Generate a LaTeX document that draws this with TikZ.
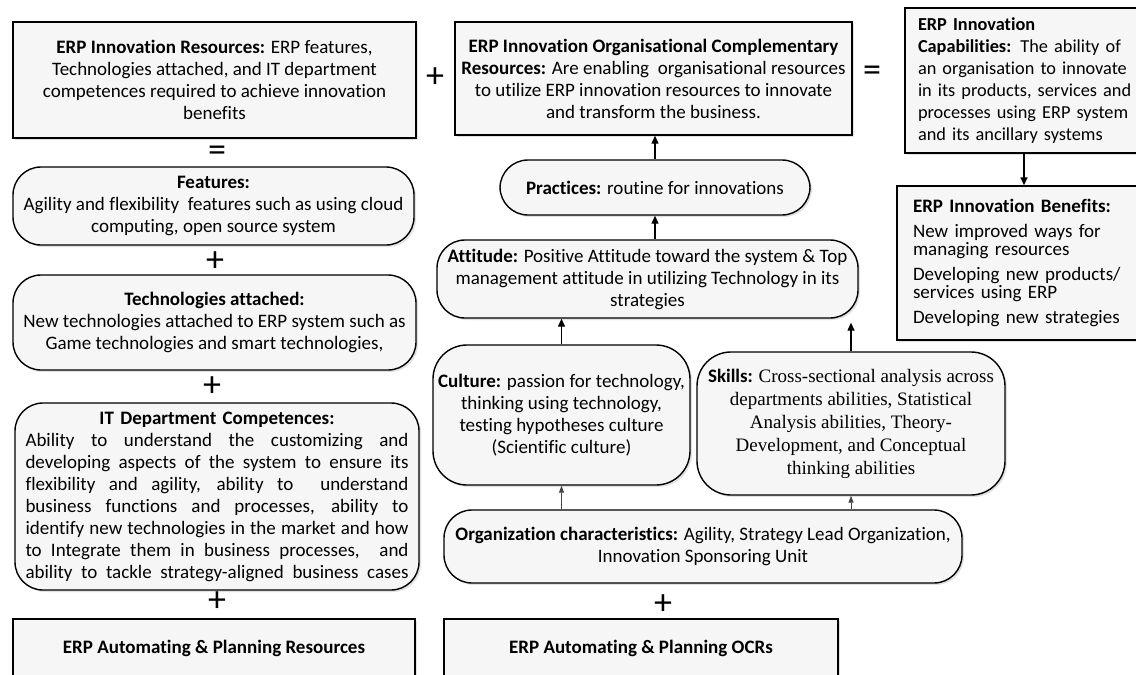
\documentclass[tikz,border=0pt]{standalone}
\usepackage{fontspec}
\setmainfont[Ligatures=NoCommon]{Carlito}
\newfontfamily\skillfont{Liberation Serif}
\usetikzlibrary{arrows.meta,shadows}
\newcommand\itline[1]{\makebox[383pt][s]{\spaceskip=.25em plus 1fil\relax #1}}

\begin{document}
\begin{tikzpicture}[x=1pt,y=-1pt,
  box/.style={draw,line width=1.4pt,fill=gray!7,drop shadow={fill=gray!45,shadow xshift=2pt,shadow yshift=-2pt},
    font=\fontsize{19}{22}\selectfont,align=center,inner sep=0pt},
  sqbox/.style={box,rectangle},
  rbox/.style={box,rounded corners=28pt},
  sign/.style={font=\fontsize{36}{36}\selectfont,inner sep=0pt},
  arr/.style={-{Triangle[length=8pt,width=7pt]},line width=1.4pt},
  thinarr/.style={-{Triangle[length=7pt,width=5pt]},line width=0.8pt,draw=gray!55!black}]
\path[use as bounding box,fill=white](0,0)rectangle(1136,675);
\clip(0,0)rectangle(1136,675);
\node[sqbox,minimum width=403,minimum height=116](res)at(214.5,80){\textbf{ERP Innovation Resources:} ERP features,\\Technologies attached, and IT department\\competences required to achieve innovation\\benefits};
\node[sqbox,minimum width=397,minimum height=113](ocr)at(653.5,78.5){\textbf{ERP Innovation Organisational Complementary}\\\textbf{Resources:} Are enabling~ organisational resources\\to utilize ERP innovation resources to innovate\\and transform the business.};
\node[sqbox,minimum width=256,minimum height=145,text width=230,align=left,inner xsep=13pt,font=\fontsize{18.3}{22}\selectfont](cap)at(1033,80.5){\textbf{ERP Innovation}\\\textbf{Capabilities:} The ability of\\an organisation to innovate\\in its products, services and\\processes using ERP system\\and its ancillary systems};
\node[sqbox,minimum width=256,minimum height=154,text width=230,align=left,inner xsep=16pt,font=\fontsize{19}{18}\selectfont](ben)at(1028,263){\textbf{ERP Innovation Benefits:}\\[7pt]New improved ways for\\managing resources\\[7pt]Developing new products/\\services using ERP\\[7pt]Developing new strategies};
\node[rbox,minimum width=401,minimum height=78](feat)at(213.5,206){\textbf{Features:}\\Agility and flexibility~ features such as using cloud\\computing, open source system};
\node[rbox,minimum width=403,minimum height=95](tech)at(214.5,322.5){\textbf{Technologies attached:}\\New technologies attached to ERP system such as\\Game technologies and smart technologies,};
\node[rbox,minimum width=404,minimum height=187,text width=383](itc)at(217,496.5){\textbf{IT Department Competences:}\\
\itline{Ability to understand the customizing and}\\
\itline{developing aspects of the system to ensure its}\\
\itline{flexibility and agility, ability to \ understand}\\
\itline{business functions and processes, ability to}\\
\itline{identify new technologies in the market and how}\\
\itline{to Integrate them in business processes, \ and}\\
\itline{ability to tackle strategy-aligned business cases}};
\node[sqbox,minimum width=402,minimum height=58](arp)at(214,648){\textbf{ERP Automating \& Planning Resources}};
\node[rbox,minimum width=310,minimum height=55](prac)at(655,187.5){\textbf{Practices:} routine for innovations};
\node[rbox,minimum width=421,minimum height=78](att)at(647.5,279){\textbf{Attitude:} Positive Attitude toward the system \& Top\\management attitude in utilizing Technology in its\\strategies};
\node[rbox,rounded corners=34pt,minimum width=257,minimum height=140](cult)at(561.5,415){\textbf{Culture:} passion for technology,\\thinking using technology,\\testing hypotheses culture\\(Scientific culture)};
\node[rbox,rounded corners=34pt,minimum width=308,minimum height=143,font=\fontsize{19}{23}\selectfont](skill)at(851,423.5){\textbf{Skills:} \skillfont Cross-sectional analysis across\\\skillfont departments abilities, Statistical\\\skillfont Analysis abilities, Theory-\\\skillfont Development, and Conceptual\\\skillfont thinking abilities};
\node[rbox,minimum width=518,minimum height=73](org)at(703,546.5){\textbf{Organization characteristics:} Agility, Strategy Lead Organization,\\Innovation Sponsoring Unit};
\node[sqbox,minimum width=394,minimum height=58](aocr)at(641,648){\textbf{ERP Automating \& Planning OCRs}};
\node[sign](p1)at(435,78){+};
\node[sign](e1)at(872,74){=};
\node[sign](e2)at(217,154){=};
\node[sign](p2)at(215,262){+};
\node[sign](p3)at(212,387){+};
\node[sign](p4)at(217,602){+};
\node[sign](p5)at(663,605){+};
\draw[arr](prac.north)--(ocr.south-|prac.north);
\draw[arr](prac.south|-att.north)--(prac.south);
\draw[arr](cult.north)--(cult.north|-att.south);
\draw[arr](skill.north)--([yshift=-4pt]skill.north|-att.south);
\draw[arr]([xshift=-9pt]cap.south)--([xshift=-9pt]cap.south|-ben.north);
\draw[thinarr](cult.south|-org.north)--(cult.south);
\draw[thinarr](skill.south|-org.north)--(skill.south);
\end{tikzpicture}
\end{document}
